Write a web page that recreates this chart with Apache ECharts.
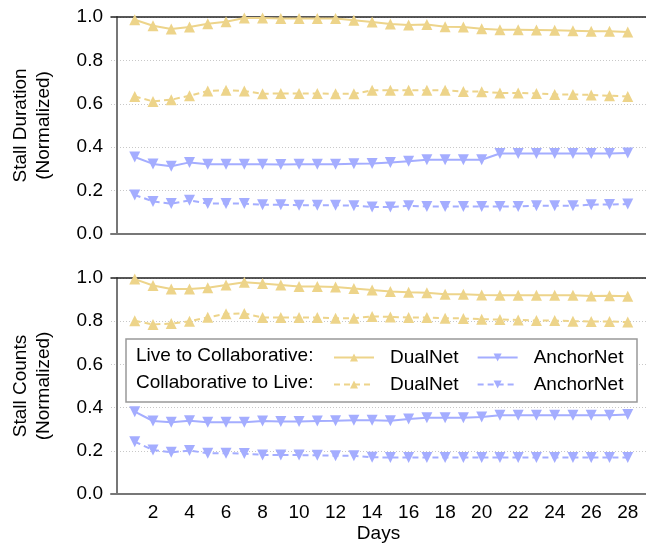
<!DOCTYPE html>
<html>
<head>
<meta charset="utf-8">
<script src="https://cdn.jsdelivr.net/npm/echarts@6/dist/echarts.min.js"></script>
<style>
  html, body { margin: 0; padding: 0; background: #fff; }
  #chart { width: 646px; height: 544px; }
</style>
</head>
<body>
<div id="chart"></div>
<script>
const days = [1, 2, 3, 4, 5, 6, 7, 8, 9, 10, 11, 12, 13, 14, 15, 16, 17, 18, 19, 20, 21, 22, 23, 24, 25, 26, 27, 28];
const dayTicks = [2, 4, 6, 8, 10, 12, 14, 16, 18, 20, 22, 24, 26, 28];

// stall duration (normalized)
const durL2CDual = [0.987, 0.96, 0.945, 0.954, 0.969, 0.978, 0.995, 0.995, 0.993, 0.993, 0.993, 0.993, 0.985, 0.977, 0.968, 0.963, 0.965, 0.955, 0.954, 0.946, 0.941, 0.941, 0.94, 0.939, 0.937, 0.934, 0.934, 0.931];
const durC2LDual = [0.634, 0.611, 0.619, 0.637, 0.659, 0.662, 0.659, 0.646, 0.648, 0.648, 0.648, 0.646, 0.646, 0.662, 0.662, 0.662, 0.663, 0.662, 0.657, 0.656, 0.65, 0.65, 0.648, 0.643, 0.643, 0.641, 0.637, 0.634];
const durL2CAnchor = [0.355, 0.323, 0.312, 0.33, 0.321, 0.321, 0.321, 0.321, 0.32, 0.321, 0.321, 0.322, 0.324, 0.325, 0.33, 0.335, 0.342, 0.342, 0.342, 0.342, 0.371, 0.371, 0.371, 0.371, 0.371, 0.371, 0.371, 0.373];
const durC2LAnchor = [0.18, 0.15, 0.14, 0.155, 0.14, 0.14, 0.14, 0.135, 0.135, 0.133, 0.133, 0.133, 0.13, 0.125, 0.124, 0.13, 0.127, 0.127, 0.127, 0.127, 0.127, 0.127, 0.13, 0.13, 0.13, 0.135, 0.136, 0.138];

// stall counts (normalized)
const cntL2CDual = [0.995, 0.965, 0.949, 0.949, 0.955, 0.968, 0.98, 0.974, 0.968, 0.961, 0.961, 0.958, 0.951, 0.945, 0.937, 0.934, 0.932, 0.925, 0.925, 0.921, 0.92, 0.92, 0.92, 0.92, 0.92, 0.917, 0.918, 0.915];
const cntC2LDual = [0.802, 0.785, 0.789, 0.8, 0.818, 0.834, 0.836, 0.817, 0.817, 0.817, 0.817, 0.814, 0.814, 0.822, 0.82, 0.817, 0.817, 0.814, 0.813, 0.809, 0.808, 0.806, 0.803, 0.803, 0.8, 0.799, 0.799, 0.796];
const cntL2CAnchor = [0.381, 0.338, 0.332, 0.339, 0.332, 0.332, 0.332, 0.338, 0.336, 0.336, 0.338, 0.339, 0.341, 0.341, 0.339, 0.347, 0.353, 0.353, 0.353, 0.356, 0.365, 0.365, 0.365, 0.365, 0.365, 0.365, 0.365, 0.368];
const cntC2LAnchor = [0.242, 0.204, 0.193, 0.201, 0.189, 0.189, 0.187, 0.181, 0.181, 0.18, 0.179, 0.177, 0.177, 0.17, 0.169, 0.169, 0.169, 0.169, 0.169, 0.169, 0.169, 0.169, 0.169, 0.169, 0.169, 0.169, 0.169, 0.169];

const yellow = '#EDD48A';
const blue = '#A4ADFF';
const font = '"Liberation Sans", Arial, sans-serif';
const fs = 19;

const chart = echarts.init(document.getElementById('chart'));

function pairs(arr) {
  return days.map((d, i) => [d, arr[i]]);
}

function line(name, arr, idx, color, dashed, down) {
  return {
    name: name,
    type: 'line',
    xAxisIndex: idx,
    yAxisIndex: idx,
    data: pairs(arr),
    symbol: 'triangle',
    symbolSize: 11,
    symbolRotate: down ? 180 : 0,
    showSymbol: true,
    itemStyle: { color: color },
    lineStyle: { color: color, width: 2, type: dashed ? [6, 4] : 'solid' },
    emphasis: { disabled: true },
    z: 5
  };
}

function xAxis(idx, showLabels) {
  return {
    type: 'value',
    gridIndex: idx,
    min: -0.3,
    max: 29,
    axisLine: { lineStyle: { color: '#777', width: 2 } },
    axisTick: { show: false },
    splitLine: { show: false },
    axisLabel: {
      show: showLabels,
      customValues: dayTicks,
      formatter: v => String(Math.round(v)),
      color: '#000',
      fontSize: fs,
      fontFamily: font,
      margin: 9
    },
    name: showLabels ? 'Days' : '',
    nameLocation: 'middle',
    nameGap: 30,
    nameTextStyle: { color: '#000', fontSize: fs, fontFamily: font }
  };
}

function topBorder(idx) {
  return {
    type: 'value',
    gridIndex: idx,
    position: 'top',
    min: -0.3,
    max: 29,
    axisLine: { show: true, lineStyle: { color: '#222', width: 1.5 } },
    axisTick: { show: false },
    axisLabel: { show: false },
    splitLine: { show: false }
  };
}

function yAxis(idx, title) {
  return {
    type: 'value',
    gridIndex: idx,
    min: 0,
    max: 1,
    interval: 0.2,
    axisLine: { show: true, lineStyle: { color: '#777', width: 2 } },
    axisTick: { show: false },
    splitLine: { show: true, lineStyle: { color: '#c8c8c8', type: [1, 2], width: 1 } },
    axisLabel: {
      color: '#000',
      fontSize: fs,
      fontFamily: font,
      margin: 8,
      formatter: v => v.toFixed(1)
    },
    name: title,
    nameLocation: 'middle',
    nameGap: 56,
    nameTextStyle: { color: '#000', fontSize: fs, fontFamily: font, lineHeight: 23 }
  };
}

const L2C = 'Live to Collaborative:';
const C2L = 'Collaborative to Live:';

function legendRow(top, names) {
  return {
    data: names,
    left: 333,
    top: top,
    padding: 0,
    itemWidth: 40,
    itemHeight: 10,
    itemGap: 18,
    selectedMode: false,
    formatter: n => n.split('|')[1],
    textStyle: { color: '#000', fontSize: fs, fontFamily: font, padding: [0, 0, 0, 11], width: 70 }
  };
}

chart.setOption({
  animation: false,
  grid: [
    { left: 111, right: 0, top: 17, height: 217 },
    { left: 111, right: 0, top: 278, height: 217 }
  ],
  xAxis: [xAxis(0, false), xAxis(1, true), topBorder(0), topBorder(1)],
  yAxis: [yAxis(0, 'Stall Duration\n(Normalized)'), yAxis(1, 'Stall Counts\n(Normalized)')],
  legend: [
    legendRow(348, [L2C + '|DualNet', L2C + '|AnchorNet']),
    legendRow(375, [C2L + '|DualNet', C2L + '|AnchorNet'])
  ],
  graphic: [
    {
      type: 'rect',
      shape: { x: 126, y: 339, width: 511, height: 63 },
      style: { fill: '#fff', stroke: '#999', lineWidth: 1.5 },
      z: 3
    },
    {
      type: 'text', x: 136, y: 356, z: 6,
      style: { text: L2C, fill: '#000', font: fs + 'px ' + font, verticalAlign: 'middle' }
    },
    {
      type: 'text', x: 136, y: 383, z: 6,
      style: { text: C2L, fill: '#000', font: fs + 'px ' + font, verticalAlign: 'middle' }
    }
  ],
  series: [
    line(L2C + '|DualNet', durL2CDual, 0, yellow, false, false),
    line(C2L + '|DualNet', durC2LDual, 0, yellow, true, false),
    line(L2C + '|AnchorNet', durL2CAnchor, 0, blue, false, true),
    line(C2L + '|AnchorNet', durC2LAnchor, 0, blue, true, true),
    line(L2C + '|DualNet', cntL2CDual, 1, yellow, false, false),
    line(C2L + '|DualNet', cntC2LDual, 1, yellow, true, false),
    line(L2C + '|AnchorNet', cntL2CAnchor, 1, blue, false, true),
    line(C2L + '|AnchorNet', cntC2LAnchor, 1, blue, true, true)
  ]
});
</script>
</body>
</html>
